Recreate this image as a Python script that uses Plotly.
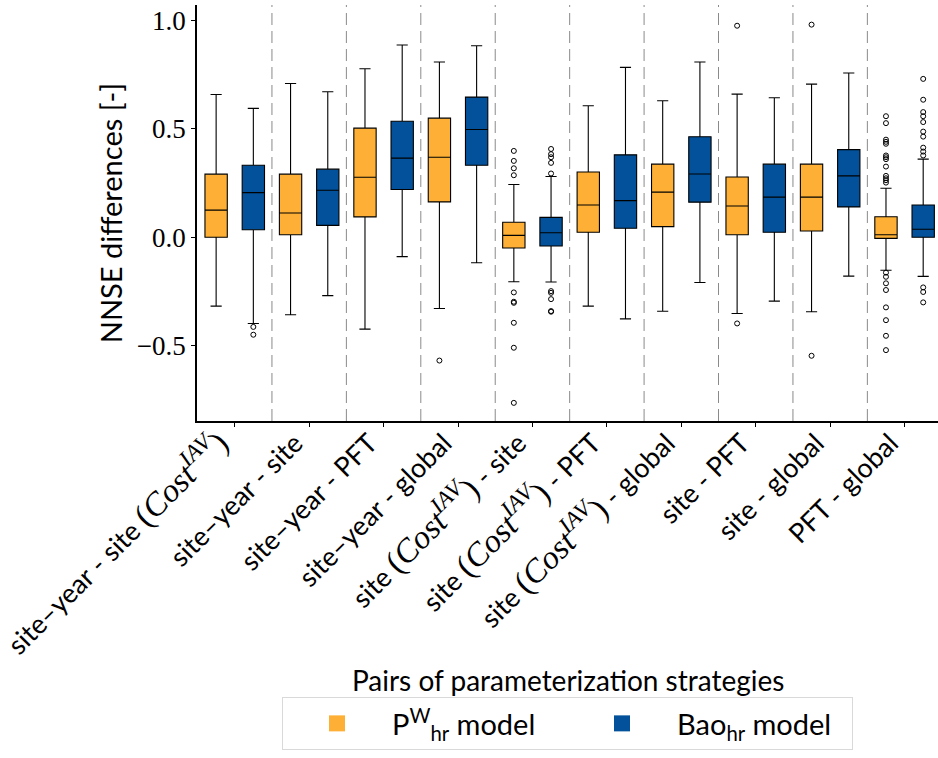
import plotly.graph_objects as go

COST = ('<span style="font-family:\'Liberation Serif\';font-size:33px">(<i>Cost</i>'
        '<sup><i>IAV</i></sup>)</span>')
categories = [
    "site–year - site " + COST,
    "site–year - site",
    "site–year - PFT",
    "site–year - global",
    "site " + COST + " - site",
    "site " + COST + " - PFT",
    "site " + COST + " - global",
    "site - PFT",
    "site - global",
    "PFT - global",
]

# P^W_hr model (orange)
pw_lower = [-0.317, -0.357, -0.423, -0.328, -0.205, -0.317, -0.341, -0.351, -0.343, -0.152]
pw_q1 = [0.000, 0.012, 0.094, 0.163, -0.049, 0.023, 0.049, 0.012, 0.029, -0.005]
pw_median = [0.125, 0.112, 0.277, 0.369, 0.009, 0.149, 0.208, 0.144, 0.185, 0.012]
pw_q3 = [0.291, 0.291, 0.503, 0.549, 0.069, 0.301, 0.337, 0.278, 0.337, 0.095]
pw_upper = [0.658, 0.709, 0.777, 0.808, 0.243, 0.606, 0.629, 0.660, 0.706, 0.226]
pw_outliers = [
    [], [], [], [-0.568],
    [0.398, 0.352, 0.318, 0.286, -0.254, -0.297, -0.302, -0.394, -0.509, -0.763],
    [], [], [0.975, -0.397], [0.980, -0.546],
    [0.558, 0.526, 0.450, 0.440, 0.431, 0.377, 0.369, 0.360, 0.326, 0.283, 0.272, 0.263, 0.252,
     -0.163, -0.182, -0.212, -0.243, -0.323, -0.382, -0.454, -0.520],
]

# Bao_hr model (blue)
bao_lower = [-0.397, -0.269, -0.089, -0.117, -0.206, -0.376, -0.208, -0.294, -0.179, -0.180]
bao_q1 = [0.035, 0.055, 0.220, 0.332, -0.040, 0.042, 0.162, 0.023, 0.140, 0.000]
bao_median = [0.206, 0.217, 0.365, 0.497, 0.021, 0.169, 0.292, 0.185, 0.283, 0.037]
bao_q3 = [0.332, 0.314, 0.535, 0.646, 0.092, 0.380, 0.463, 0.337, 0.404, 0.149]
bao_upper = [0.594, 0.671, 0.886, 0.883, 0.280, 0.783, 0.808, 0.643, 0.757, 0.360]
bao_outliers = [
    [-0.413, -0.449], [], [], [],
    [0.407, 0.383, 0.369, 0.343, 0.294, -0.248, -0.256, -0.285, -0.340, -0.343],
    [], [], [], [],
    [0.730, 0.634, 0.577, 0.558, 0.531, 0.487, 0.464, 0.413, 0.395, 0.377, -0.231, -0.252, -0.300],
]

series_names = ["P<sup>W</sup><sub>hr</sub> model", "Bao<sub>hr</sub> model"]
colors = ["#FDB035", "#02519A"]
offsets = [-0.25, 0.25]
BOX_WIDTH = 0.3

SANS = "Lato"
SERIF = "Liberation Serif"

fig = go.Figure()
stats = [
    (pw_lower, pw_q1, pw_median, pw_q3, pw_upper, pw_outliers),
    (bao_lower, bao_q1, bao_median, bao_q3, bao_upper, bao_outliers),
]
n = len(categories)
for k, (lo, q1, med, q3, hi, outl) in enumerate(stats):
    pos = [i + offsets[k] for i in range(n)]
    fig.add_trace(go.Box(
        x=pos,
        q1=q1, median=med, q3=q3, lowerfence=lo, upperfence=hi,
        width=BOX_WIDTH,
        name=series_names[k], legendgroup=str(k), showlegend=False,
        fillcolor=colors[k], line=dict(color="black", width=1.1),
        whiskerwidth=0.5, boxpoints=False, hoverinfo="skip",
    ))
    ox = [pos[i] for i in range(n) for _ in outl[i]]
    oy = [v for i in range(n) for v in outl[i]]
    fig.add_trace(go.Scatter(
        x=ox, y=oy, mode="markers", name=series_names[k] + " outliers",
        legendgroup=str(k), showlegend=False,
        marker=dict(symbol="circle-open", size=5, color="black", line=dict(width=1)),
    ))
    fig.add_trace(go.Scatter(
        x=[None], y=[None], mode="markers", name=series_names[k], legendgroup=str(k),
        marker=dict(symbol="square", size=16, color=colors[k]),
    ))

# dashed separators between pairs
for i in range(n - 1):
    fig.add_shape(type="line", xref="x", yref="paper", x0=i + 0.5, x1=i + 0.5, y0=0, y1=1,
                  line=dict(color="#8a8a8a", width=1, dash="12px,6px"), layer="below")

fig.add_annotation(text="Pairs of parameterization strategies", xref="paper", yref="paper",
                   x=0.5, y=-0.6226, xanchor="center", yanchor="middle", showarrow=False,
                   font=dict(family=SANS, size=28))

fig.update_layout(
    width=938, height=758,
    margin=dict(l=197, r=0, t=5, b=337, autoexpand=False),
    plot_bgcolor="white", paper_bgcolor="white",
    boxmode="overlay",
    font=dict(family=SANS, size=28, color="black"),
    showlegend=True,
    legend=dict(orientation="h", x=0.5, xanchor="center", y=-0.6635, yanchor="top",
                bordercolor="#d9d9d9", borderwidth=1, itemwidth=100,
                font=dict(family=SANS, size=29), entrywidth=170),
)
fig.update_xaxes(
    range=[-0.507, 9.449], tickvals=list(range(n)), ticktext=categories, tickangle=-45,
    ticks="outside", ticklen=4, tickcolor="black", automargin=False,
    ticklabelshift=-14, ticklabelstandoff=-10, ticklabeloverflow="allow",
    showline=True, linecolor="black", linewidth=1.6, showgrid=False, zeroline=False,
    tickfont=dict(family=SANS, size=27),
)
fig.update_yaxes(
    range=[-0.8466, 1.0705], tickvals=[-0.5, 0.0, 0.5, 1.0], tickformat=".1f",
    ticks="outside", ticklen=4, tickcolor="black", automargin=False,
    showline=True, linecolor="black", linewidth=1.6, showgrid=False, zeroline=False,
    tickfont=dict(family=SERIF, size=27),
    title=dict(text="NNSE differences [-]", font=dict(family=SANS, size=29), standoff=6),
)

fig.write_html("out.html")
